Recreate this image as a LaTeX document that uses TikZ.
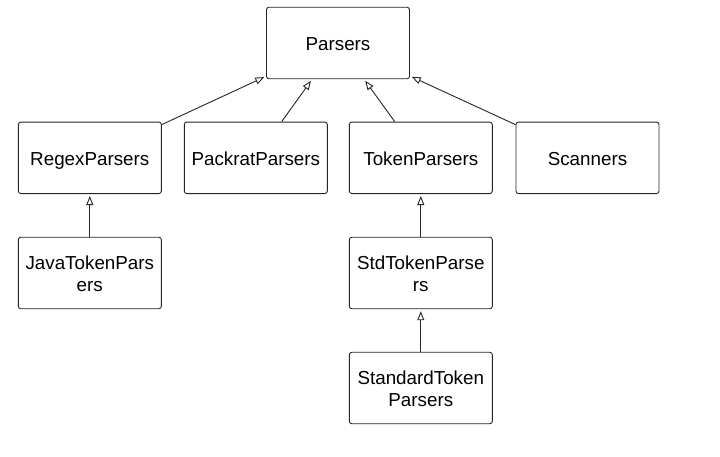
\documentclass[tikz,border=0pt]{standalone}
\usepackage{fontspec}
\setmainfont{Liberation Sans}
\usetikzlibrary{arrows.meta}
\newcommand{\cltext}[1]{\raisebox{-3pt}[\height][\depth]{\begin{tabular}{@{}c@{}}#1\end{tabular}}}
\begin{document}
\begin{tikzpicture}[x=1pt,y=-1pt,
  cls/.style={draw=black!85, line width=0.9pt, rounded corners=2.5pt,
    minimum width=143pt, minimum height=71.5pt, inner sep=0pt,
    font=\fontsize{18.8}{22}\selectfont},
  inh/.style={draw=black!85, line width=0.9pt, shorten >=2pt,
    -{Triangle[open, length=9pt, width=7pt, line width=0.9pt]}}]
\useasboundingbox (0,0) rectangle (720,456);
\fill[white] (0,0) rectangle (720,456);
\node[cls] (parsers) at (338,43) {\cltext{Parsers}};
\node[cls] (regex) at (89.8,157.8) {\cltext{RegexParsers}};
\node[cls] (packrat) at (255.8,157.8) {\cltext{PackratParsers}};
\node[cls] (token) at (420.8,157.8) {\cltext{TokenParsers}};
\node[cls] (scanners) at (587.5,157.8) {\cltext{Scanners}};
\node[cls] (java) at (89.8,273) {\cltext{JavaTokenPars\\ers}};
\node[cls] (std) at (420.8,273) {\cltext{StdTokenParse\\rs}};
\node[cls] (standard) at (420.8,388) {\cltext{StandardToken\\Parsers}};
\draw[inh] (regex) -- (parsers);
\draw[inh] (packrat) -- (parsers);
\draw[inh] (token) -- (parsers);
\draw[inh] (scanners) -- (parsers);
\draw[inh] (java) -- (regex);
\draw[inh] (std) -- (token);
\draw[inh] (standard) -- (std);
\end{tikzpicture}
\end{document}
